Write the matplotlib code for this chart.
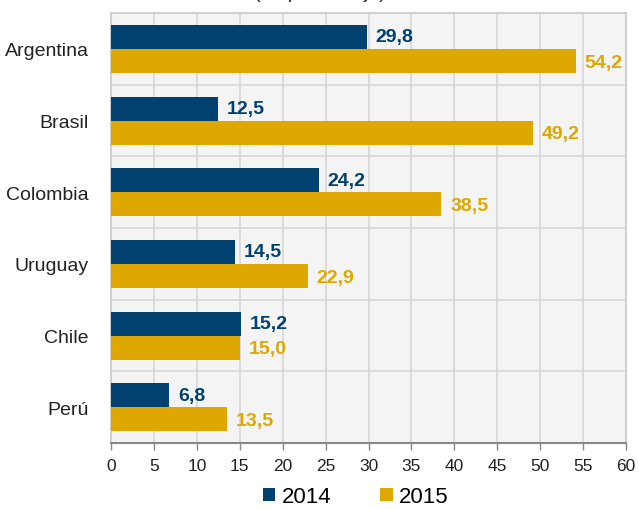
import matplotlib.pyplot as plt
import numpy as np

plt.rcParams['font.family'] = ['Liberation Sans', 'DejaVu Sans']

countries = ['Argentina', 'Brasil', 'Colombia', 'Uruguay', 'Chile', 'Perú']
vals_2014 = [29.8, 12.5, 24.2, 14.5, 15.2, 6.8]
vals_2015 = [54.2, 49.2, 38.5, 22.9, 15.0, 13.5]
years = ['2014', '2015']

blue = '#00416f'
gold = '#dfa800'

fig = plt.figure(figsize=(6.39, 5.10), dpi=100)
ax = fig.add_axes([0.1737, 0.1294, 0.806, 0.843])
ax.set_facecolor('#f4f4f4')

y = np.arange(len(countries))
h = 0.335
b1 = ax.barh(y - h / 2, vals_2014, height=h, color=blue, label=years[0], zorder=3)
b2 = ax.barh(y + h / 2, vals_2015, height=h, color=gold, label=years[1], zorder=3)

for yy, v in zip(y, vals_2014):
    ax.text(v + 1, yy - h / 2, f'{v:.1f}'.replace('.', ','), color=blue,
            fontsize=14, fontweight='bold', va='center', ha='left', zorder=4)
for yy, v in zip(y, vals_2015):
    ax.text(v + 1, yy + h / 2 + 0.02, f'{v:.1f}'.replace('.', ','), color=gold,
            fontsize=14, fontweight='bold', va='center', ha='left', zorder=4)

ax.set_xlim(0, 60)
ax.set_ylim(len(countries) - 0.5, -0.5)
ax.set_xticks(np.arange(0, 61, 5))
ax.set_yticks(y)
ax.set_yticklabels(countries)
ax.set_yticks(np.arange(-0.5, len(countries), 1), minor=True)
ax.grid(axis='x', color='#d6d6d6', linewidth=1.2, zorder=1)
ax.grid(axis='y', which='minor', color='#d6d6d6', linewidth=1.2, zorder=1)
ax.tick_params(axis='y', which='both', length=0, labelsize=14, pad=16, colors='#222222')
ax.tick_params(axis='x', length=5, width=1, color='#888888', labelsize=12.5,
               labelcolor='#222222', pad=6)
for side in ['top', 'right', 'left']:
    ax.spines[side].set_color('#d0d0d0')
    ax.spines[side].set_linewidth(1.5)
ax.spines['bottom'].set_color('#888888')
ax.spines['bottom'].set_linewidth(1.5)

# subtitle is cut off at the top edge in the original
fig.text(0.5, 1.012, '(en porcentaje)', ha='center', va='center', fontsize=14, color='#222222')

fig.legend(handles=[b1, b2], loc='lower center', bbox_to_anchor=(0.557, -0.036), ncol=2,
           frameon=False, fontsize=16, handlelength=0.55, handleheight=0.55,
           handletextpad=0.3, columnspacing=2.2)

fig.savefig('out.png', dpi=100)
